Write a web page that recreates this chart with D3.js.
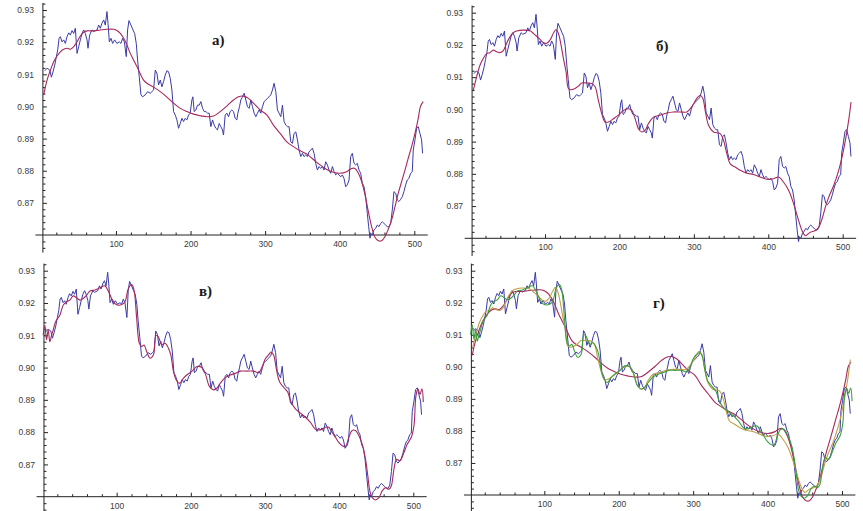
<!DOCTYPE html>
<html><head><meta charset="utf-8">
<script src="https://cdn.jsdelivr.net/npm/d3@7"></script>
<style>body{margin:0;background:#fff} svg{display:block}</style>
</head><body><svg id="c" width="863" height="511"></svg>
<script>
const signal = [[4.5,0.9111],[7.6,0.9119],[11.2,0.9113],[13.4,0.9091],[15.6,0.9108],[17.9,0.9129],[20.1,0.9155],[21.9,0.9176],[23.7,0.9212],[25.4,0.9217],[27.7,0.9201],[29.9,0.9207],[32.1,0.9196],[34.4,0.9217],[36.6,0.9229],[38.8,0.9222],[41.1,0.9236],[43.3,0.9227],[45.5,0.9243],[47.8,0.9165],[50.0,0.9186],[52.2,0.9207],[54.5,0.9227],[56.7,0.9238],[58.9,0.9227],[61.2,0.9207],[62.5,0.9181],[64.7,0.9222],[67.9,0.9238],[70.1,0.9233],[74.5,0.9238],[76.8,0.9253],[79.0,0.9243],[81.2,0.9259],[83.5,0.9269],[85.7,0.9253],[87.9,0.9295],[89.3,0.9259],[91.1,0.9201],[93.3,0.9212],[95.5,0.9196],[98.2,0.9207],[101.3,0.9196],[104.5,0.9201],[106.7,0.9196],[108.9,0.9212],[111.2,0.9201],[113.8,0.9155],[115.6,0.9238],[117.4,0.9267],[120.1,0.9253],[122.8,0.9238],[125.0,0.9227],[127.2,0.9196],[129.0,0.9144],[131.2,0.9093],[133.5,0.9036],[135.7,0.9030],[139.3,0.9036],[142.4,0.9046],[146.0,0.9041],[148.2,0.9046],[150.4,0.9051],[152.7,0.9113],[154.9,0.9103],[157.1,0.9067],[159.4,0.9082],[161.6,0.9061],[163.8,0.9077],[166.1,0.9098],[168.3,0.9111],[170.5,0.9108],[172.8,0.9087],[175.0,0.9051],[177.2,0.8984],[179.5,0.8973],[181.7,0.8958],[183.9,0.8932],[186.2,0.8947],[188.4,0.8963],[190.6,0.8953],[192.8,0.8963],[195.1,0.8958],[197.3,0.8973],[199.5,0.8979],[201.8,0.9020],[203.1,0.9030],[204.9,0.8984],[207.1,0.8989],[209.4,0.9004],[211.6,0.9004],[213.8,0.9015],[216.1,0.8994],[218.3,0.8984],[220.5,0.8984],[222.8,0.8979],[225.0,0.8979],[227.2,0.8937],[229.5,0.8958],[231.7,0.8942],[233.9,0.8932],[236.1,0.8927],[238.4,0.8947],[240.6,0.8937],[242.8,0.8927],[244.2,0.8911],[246.4,0.8973],[248.6,0.8979],[250.9,0.8968],[253.1,0.8984],[255.3,0.8989],[257.6,0.8984],[259.8,0.8963],[262.0,0.8958],[263.4,0.8979],[265.6,0.8999],[267.4,0.9020],[269.6,0.9030],[271.9,0.9041],[274.1,0.9020],[276.3,0.8999],[278.6,0.8994],[280.8,0.9020],[283.0,0.8999],[285.3,0.8979],[287.5,0.8968],[289.7,0.8979],[292.0,0.8989],[294.2,0.8979],[296.4,0.8999],[298.6,0.9015],[300.9,0.9020],[303.1,0.9025],[305.3,0.9030],[307.6,0.9036],[309.8,0.9051],[312.0,0.9072],[314.3,0.9046],[316.5,0.8989],[318.7,0.8979],[321.0,0.8968],[323.2,0.9004],[325.4,0.8953],[327.7,0.8942],[329.9,0.8937],[332.1,0.8937],[334.4,0.8890],[336.6,0.8885],[338.8,0.8916],[341.1,0.8921],[343.3,0.8896],[345.5,0.8864],[347.8,0.8844],[350.0,0.8854],[352.2,0.8844],[354.4,0.8849],[356.7,0.8844],[358.9,0.8859],[361.1,0.8864],[363.4,0.8870],[365.6,0.8854],[367.8,0.8823],[370.1,0.8802],[372.3,0.8813],[374.5,0.8807],[376.8,0.8813],[379.0,0.8802],[381.2,0.8828],[383.5,0.8818],[385.7,0.8802],[387.9,0.8792],[390.2,0.8813],[392.4,0.8797],[394.6,0.8787],[396.9,0.8792],[399.1,0.8787],[401.3,0.8781],[403.5,0.8787],[405.8,0.8776],[408.0,0.8750],[410.2,0.8756],[412.5,0.8771],[414.7,0.8844],[416.9,0.8854],[419.2,0.8823],[421.4,0.8818],[423.6,0.8823],[425.9,0.8802],[428.1,0.8792],[430.3,0.8761],[432.6,0.8750],[434.8,0.8719],[437.0,0.8667],[438.8,0.8626],[440.6,0.8590],[441.9,0.8605],[443.7,0.8600],[446.0,0.8616],[448.2,0.8621],[450.4,0.8631],[452.7,0.8626],[454.9,0.8636],[457.1,0.8641],[459.3,0.8636],[461.6,0.8631],[463.8,0.8626],[466.0,0.8626],[468.3,0.8636],[470.5,0.8678],[472.7,0.8735],[475.0,0.8730],[477.2,0.8709],[479.4,0.8704],[481.7,0.8711],[483.9,0.8719],[486.1,0.8735],[488.4,0.8756],[490.6,0.8771],[492.8,0.8776],[495.1,0.8792],[497.3,0.8797],[498.6,0.8864],[500.9,0.8896],[503.1,0.8932],[505.3,0.8937],[507.6,0.8916],[509.8,0.8896],[511.1,0.8854]];

const smoothStrong = [[3.1,0.9036],[7.6,0.9082],[12.1,0.9113],[16.5,0.9139],[21.0,0.9157],[25.4,0.9170],[29.9,0.9178],[34.4,0.9181],[38.8,0.9178],[43.3,0.9186],[47.8,0.9201],[52.2,0.9219],[56.7,0.9231],[61.2,0.9235],[70.1,0.9235],[79.0,0.9238],[87.9,0.9240],[96.9,0.9240],[101.3,0.9236],[105.8,0.9227],[110.3,0.9212],[114.7,0.9191],[119.2,0.9165],[123.7,0.9144],[128.1,0.9124],[132.6,0.9101],[137.0,0.9082],[141.5,0.9072],[150.4,0.9060],[159.4,0.9046],[168.3,0.9029],[177.2,0.9010],[186.2,0.8994],[195.1,0.8984],[204.0,0.8976],[212.9,0.8971],[221.9,0.8968],[230.8,0.8970],[239.7,0.8984],[248.6,0.9001],[257.6,0.9020],[264.3,0.9030],[271.0,0.9032],[277.7,0.9025],[284.4,0.9010],[293.3,0.8989],[302.2,0.8974],[311.1,0.8942],[320.1,0.8916],[329.0,0.8890],[337.9,0.8875],[346.9,0.8862],[355.8,0.8852],[364.7,0.8835],[373.6,0.8818],[382.6,0.8804],[391.5,0.8795],[400.4,0.8792],[409.3,0.8797],[416.0,0.8807],[420.5,0.8807],[425.0,0.8792],[429.4,0.8766],[433.9,0.8725],[438.4,0.8673],[442.8,0.8626],[447.3,0.8593],[451.8,0.8582],[456.2,0.8582],[460.7,0.8595],[465.1,0.8618],[469.6,0.8647],[474.1,0.8688],[478.5,0.8730],[483.0,0.8766],[487.5,0.8802],[491.9,0.8839],[496.4,0.8875],[500.9,0.8916],[505.3,0.8963],[508.4,0.9001],[512.0,0.9015]];

const smoothMedium = [[3.6,0.9059],[8.1,0.9101],[12.6,0.9137],[17.0,0.9158],[21.5,0.9173],[26.0,0.9176],[30.5,0.9184],[35.0,0.9179],[39.5,0.9176],[43.9,0.9182],[48.4,0.9205],[52.9,0.9225],[57.4,0.9238],[61.9,0.9243],[70.8,0.9246],[79.8,0.9244],[84.3,0.9236],[88.8,0.9227],[93.3,0.9217],[97.8,0.9207],[102.2,0.9205],[106.7,0.9215],[111.2,0.9236],[114.8,0.9248],[117.9,0.9236],[121.1,0.9205],[124.7,0.9158],[128.3,0.9116],[131.4,0.9065],[134.5,0.9061],[140.3,0.9065],[144.8,0.9072],[149.3,0.9082],[156.0,0.9082],[162.8,0.9080],[167.3,0.9070],[171.7,0.9028],[176.2,0.8987],[180.7,0.8961],[185.2,0.8961],[191.9,0.8971],[198.6,0.8982],[205.4,0.8997],[212.1,0.9002],[216.6,0.8997],[221.1,0.8971],[225.5,0.8940],[230.0,0.8930],[234.5,0.8935],[239.0,0.8956],[245.7,0.8976],[254.7,0.8982],[263.7,0.8989],[272.6,0.8992],[281.6,0.8992],[290.5,0.8992],[297.3,0.9008],[304.0,0.9034],[308.5,0.9044],[312.1,0.9034],[315.2,0.8997],[319.7,0.8951],[326.4,0.8930],[335.4,0.8925],[339.9,0.8904],[344.4,0.8862],[348.8,0.8831],[355.6,0.8821],[362.3,0.8811],[371.3,0.8802],[380.2,0.8798],[389.2,0.8790],[398.2,0.8783],[407.1,0.8785],[413.9,0.8790],[420.6,0.8774],[427.3,0.8749],[434.1,0.8707],[440.8,0.8655],[445.3,0.8624],[449.8,0.8608],[456.5,0.8619],[463.2,0.8624],[467.7,0.8634],[472.2,0.8660],[476.6,0.8696],[481.1,0.8727],[487.9,0.8764],[494.6,0.8811],[499.1,0.8852],[503.6,0.8904],[508.0,0.8966],[511.2,0.9023]];

const smoothLight = [[0.9,0.9100],[3.2,0.9131],[5.4,0.9086],[7.7,0.9116],[9.9,0.9080],[12.2,0.9100],[14.4,0.9116],[16.7,0.9136],[18.9,0.9147],[23.4,0.9162],[27.9,0.9193],[32.4,0.9204],[36.9,0.9209],[41.4,0.9222],[45.9,0.9216],[50.5,0.9209],[55.0,0.9214],[59.5,0.9224],[64.0,0.9237],[70.8,0.9240],[77.5,0.9247],[84.2,0.9253],[88.7,0.9237],[93.2,0.9214],[97.7,0.9198],[102.3,0.9193],[106.8,0.9195],[111.3,0.9204],[115.8,0.9245],[120.3,0.9257],[123.4,0.9240],[127.0,0.9152],[130.6,0.9075],[133.8,0.9065],[137.0,0.9070],[140.5,0.9049],[145.0,0.9029],[149.5,0.9039],[153.2,0.9100],[156.3,0.9095],[160.8,0.9070],[165.3,0.9075],[169.8,0.9060],[173.0,0.9039],[176.6,0.8988],[180.2,0.8962],[184.7,0.8951],[190.1,0.8967],[194.6,0.8977],[201.4,0.8988],[208.1,0.9003],[214.9,0.9000],[219.4,0.8982],[225.2,0.8941],[230.6,0.8931],[235.1,0.8936],[239.6,0.8951],[246.4,0.8969],[253.2,0.8977],[259.9,0.8982],[266.7,0.8989],[275.7,0.8989],[284.7,0.8989],[291.4,0.8984],[295.9,0.9001],[300.5,0.9027],[305.0,0.9040],[308.1,0.9048],[311.7,0.9038],[315.3,0.8996],[319.8,0.8955],[325.2,0.8939],[330.6,0.8924],[335.1,0.8893],[341.0,0.8872],[347.7,0.8859],[354.5,0.8846],[361.3,0.8830],[368.0,0.8809],[374.8,0.8807],[381.5,0.8815],[386.0,0.8815],[390.5,0.8799],[395.0,0.8784],[399.5,0.8768],[404.1,0.8758],[408.6,0.8756],[413.1,0.8784],[417.6,0.8805],[422.1,0.8805],[426.6,0.8789],[431.1,0.8763],[435.6,0.8716],[438.7,0.8664],[441.4,0.8618],[444.6,0.8597],[449.1,0.8590],[453.6,0.8597],[458.1,0.8618],[462.6,0.8628],[467.1,0.8623],[470.3,0.8633],[473.9,0.8685],[477.5,0.8716],[482.0,0.8711],[487.4,0.8737],[491.9,0.8763],[497.3,0.8784],[500.9,0.8820],[503.6,0.8913],[506.3,0.8934],[509.0,0.8917],[511.7,0.8934],[513.5,0.8893]];

const yTicks = [0.87, 0.88, 0.89, 0.90, 0.91, 0.92, 0.93];
const yTickLabels = ["0.87", "0.88", "0.89", "0.90", "0.91", "0.92", "0.93"];
const xTicks = [100, 200, 300, 400, 500];
const xTickLabels = ["100", "200", "300", "400", "500"];
const panelLabels = ["а)", "б)", "в)", "г)"];

const seriesSets = [
  [[signal, "#3a3aa8"], [smoothStrong, "#a8285c"]],
  [[signal, "#3a3aa8"], [smoothMedium, "#a8285c"]],
  [[signal, "#3a3aa8"], [smoothLight, "#a8285c"]],
  [[signal, "#3a3aa8"], [smoothStrong, "#a8285c"], [smoothMedium, "#c0a048"], [smoothLight, "#3c9e3c"]]
];

const layout = [
  {x0: 41.4, x500: 414.3, y86: 235, y93: 10, lx: 212, ly: 45},
  {x0: 470.6, x500: 842.7, y86: 238.3, y93: 12.7, lx: 656, ly: 51},
  {x0: 42.5, x500: 413.3, y86: 496.7, y93: 270.7, lx: 199, ly: 296},
  {x0: 469.9, x500: 842, y86: 495, y93: 270.7, lx: 653, ly: 308}
];

const svg = d3.select("#c");
const yMinor = d3.range(0.856, 0.9325, 0.002).filter(v => Math.abs(v * 100 - Math.round(v * 100)) > 0.01);
const xMinor = d3.range(20, 501, 20).filter(v => v % 100 !== 0);

layout.forEach((L, i) => {
  const x = d3.scaleLinear().domain([0, 500]).range([L.x0, L.x500]);
  const y = d3.scaleLinear().domain([0.86, 0.93]).range([L.y86, L.y93]);
  const g = svg.append("g");
  const axisX0 = x(2);

  // axis lines
  g.append("line").attr("x1", x(-8)).attr("x2", x(518)).attr("y1", y(0.86)).attr("y2", y(0.86))
    .attr("stroke", "#222").attr("stroke-width", 1);
  g.append("line").attr("x1", axisX0).attr("x2", axisX0).attr("y1", y(0.8545)).attr("y2", y(0.9322))
    .attr("stroke", "#222").attr("stroke-width", 1);

  // y axis major
  const ya = g.append("g").attr("transform", `translate(${axisX0},0)`)
    .call(d3.axisLeft(y).tickValues(yTicks).tickFormat((d, k) => yTickLabels[k]).tickSizeInner(-4).tickSizeOuter(0).tickPadding(9));
  ya.select(".domain").remove();
  // y axis minor
  const ym = g.append("g").attr("transform", `translate(${axisX0},0)`)
    .call(d3.axisLeft(y).tickValues(yMinor).tickFormat("").tickSizeInner(-2.5).tickSizeOuter(0));
  ym.select(".domain").remove();
  // x axis major
  const xa = g.append("g").attr("transform", `translate(0,${y(0.86)})`)
    .call(d3.axisBottom(x).tickValues(xTicks).tickFormat((d, k) => xTickLabels[k]).tickSizeInner(-4).tickSizeOuter(0).tickPadding(6));
  xa.select(".domain").remove();
  const xm = g.append("g").attr("transform", `translate(0,${y(0.86)})`)
    .call(d3.axisBottom(x).tickValues(xMinor).tickFormat("").tickSizeInner(-2.5).tickSizeOuter(0));
  xm.select(".domain").remove();

  g.selectAll(".tick line").attr("stroke", "#222");
  g.selectAll(".tick text").attr("fill", "#3a3a3a").style("font-family", "'Liberation Sans', Arial, sans-serif").style("font-size", "8.5px");

  const line = d3.line().x(d => x(d[0])).y(d => y(d[1]));
  seriesSets[i].forEach(([data, color], k) => {
    g.append("path").datum(data)
      .attr("d", line.curve(k === 0 ? d3.curveLinear : d3.curveCatmullRom)(data))
      .attr("fill", "none").attr("stroke", color).attr("stroke-width", k === 0 ? 1 : 1.1)
      .attr("stroke-linejoin", "round");
  });

  g.append("text").attr("x", L.lx).attr("y", L.ly).text(panelLabels[i])
    .style("font-family", "'Liberation Serif', 'DejaVu Serif', serif").style("font-weight", "bold").style("font-size", "15px").attr("fill", "#1a1a1a");
});
</script>
</body></html>
